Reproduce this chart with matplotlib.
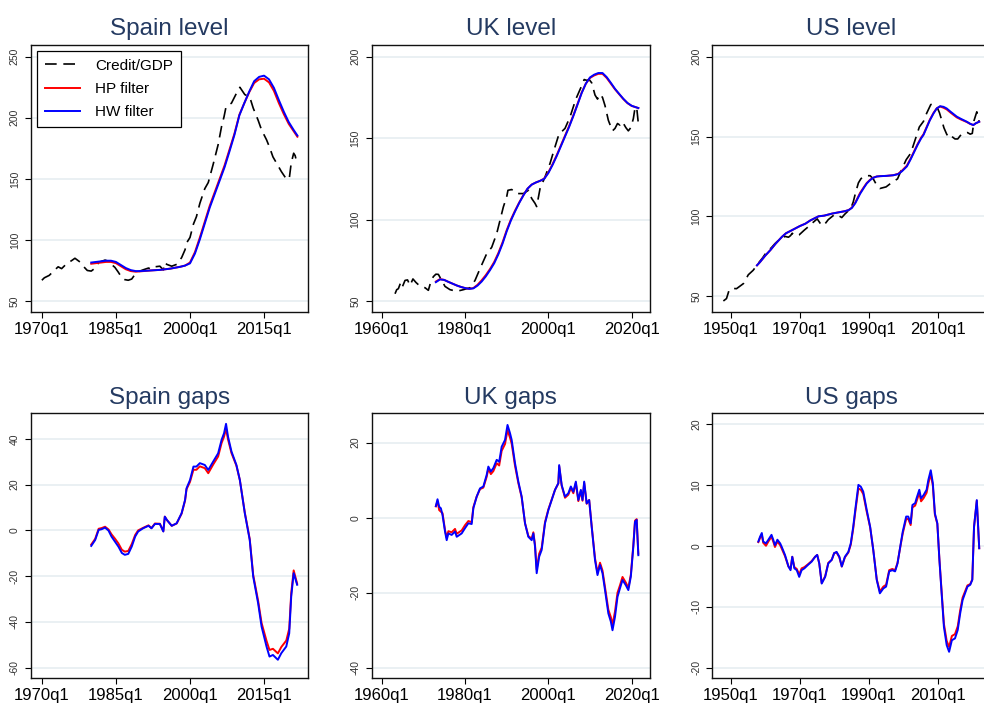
import numpy as np
import matplotlib
matplotlib.use("Agg")
import matplotlib.pyplot as plt

plt.rcParams['font.family'] = ['Liberation Sans', 'DejaVu Sans']

# ---------------- Spain ----------------
es_credit_x = [1970.0, 1970.5, 1971.5, 1972.5, 1973.3, 1974.0, 1975.0, 1976.0, 1976.7, 1977.7,
               1978.5, 1979.2, 1980.0, 1980.8, 1981.5, 1982.1, 1982.8, 1983.5, 1984.1, 1984.8,
               1985.5, 1986.2, 1986.8, 1987.5, 1988.2, 1988.9, 1989.5, 1990.5, 1991.6, 1992.2,
               1992.9, 1993.9, 1994.6, 1994.9, 1995.3, 1996.3, 1997.3, 1998.3, 1999.0, 1999.3,
               2000.0, 2000.7, 2001.3, 2002.0, 2003.0, 2003.7, 2004.7, 2005.7, 2006.4, 2006.9,
               2007.3, 2007.7, 2008.4, 2009.4, 2010.1, 2011.1, 2012.1, 2012.8, 2013.8, 2014.5,
               2015.5, 2016.1, 2016.8, 2017.8, 2018.5, 2019.5, 2020.1, 2020.5, 2021.0, 2021.3,
               2021.75]
es_credit = [67, 69, 71, 75, 78, 76.5, 80.5, 83, 85, 82,
             78, 75, 74.5, 77, 81.5, 82.5, 83.5, 82.5, 80, 77.5,
             73.5, 69, 67.5, 67, 68, 72, 74, 75.5, 77, 76,
             78, 78.5, 75.5, 81.5, 80, 78.5, 80, 85.5, 92, 97.5,
             102, 113, 119, 130, 142, 147, 162, 178, 193, 201,
             209, 210, 212, 220, 225, 219, 217, 208, 198, 190,
             182, 176, 168, 161, 156, 150, 150, 163, 171, 169,
             161.5]

es_trend_x = [1980, 1981, 1982, 1983, 1984, 1985, 1986, 1987, 1988, 1989, 1990, 1992, 1994,
              1996, 1998, 1999, 2000, 2001, 2002, 2003, 2004, 2005, 2006, 2007, 2008, 2009,
              2010, 2011, 2012, 2013, 2014, 2015, 2016, 2017, 2018, 2019, 2020, 2021, 2021.75]
es_trend_hp = [80.5, 81, 81.5, 82, 82, 81, 78.5, 76, 74.5, 74, 74.3, 75, 75.5,
               76.5, 78, 79, 81.5, 90, 102, 115, 128, 139, 150, 161, 174, 187,
               202.5, 212, 221, 228.5, 231.5, 232, 229, 222, 212, 203, 195, 189, 184.5]
es_trend_hw = [81.5, 82, 82.5, 83, 83, 82, 79.5, 77, 75.3, 74.5, 74.5, 75, 75.5,
               76.5, 78, 79, 80.8, 88.8, 100.5, 113.5, 126.5, 137.5, 148.5, 159.5, 172.5, 186,
               202, 212, 221.5, 230, 233.5, 234.5, 231.5, 224.5, 214.5, 205, 196.5, 190, 185.5]

es_gap_x = [1980.0, 1980.8, 1981.5, 1982.1, 1982.8, 1983.5, 1984.1, 1984.8, 1985.5, 1986.2,
            1986.8, 1987.5, 1988.2, 1988.9, 1989.5, 1990.5, 1991.6, 1992.2, 1992.9, 1993.9,
            1994.6, 1994.9, 1995.3, 1996.3, 1997.3, 1998.3, 1999.0, 1999.3, 2000.0, 2000.7,
            2001.3, 2002.0, 2003.0, 2003.7, 2004.7, 2005.7, 2006.4, 2006.9, 2007.3, 2007.7,
            2008.4, 2009.4, 2010.1, 2011.1, 2012.1, 2012.8, 2013.8, 2014.5, 2015.5, 2016.1,
            2016.8, 2017.8, 2018.5, 2019.5, 2020.1, 2020.5, 2021.0, 2021.7]
es_gap_hw = [-6.8, -4.2, 0.2, 0.5, 1.2, -0.1, -2.7, -4.9, -7.1, -9.9,
             -10.7, -10.3, -7.1, -2.7, -0.5, 0.9, 2.0, 0.9, 2.8, 2.8,
             -0.5, 6.0, 4.6, 2.0, 3.1, 7.5, 13.3, 18.4, 22.0, 27.9,
             27.9, 29.4, 28.6, 26.4, 30.1, 33.7, 39.6, 42.5, 46.6, 41.0,
             34.5, 28.6, 22.0, 7.5, -4.2, -20.2, -31.9, -42.1, -50.8, -55.2,
             -54.5, -56.6, -53.7, -50.8, -45.0, -29.0, -18.7, -23.8]
es_gap_hp = [-6.2, -3.7, 0.7, 1.0, 1.6, 0.4, -1.7, -3.6, -5.7, -8.5,
             -9.3, -9.0, -6.0, -2.0, 0.0, 1.1, 2.2, 1.0, 3.0, 2.9,
             -0.4, 6.0, 4.6, 2.0, 3.0, 7.3, 13.0, 18.0, 21.2, 26.5,
             26.5, 28.0, 27.2, 25.0, 28.8, 32.3, 38.2, 41.0, 44.5, 39.8,
             33.8, 28.3, 22.0, 7.8, -3.8, -19.5, -30.8, -40.5, -48.3, -52.3,
             -51.8, -53.8, -51.0, -48.2, -43.0, -27.5, -17.5, -23.3]

# ---------------- UK ----------------
uk_credit_x = [1963.2, 1963.6, 1964.0, 1964.6, 1965.0, 1965.6, 1966.2, 1966.8, 1967.5, 1968.2,
               1969.0, 1969.8, 1970.4, 1971.2, 1971.8, 1972.4, 1973.0, 1973.6, 1974.4, 1975.2,
               1976.4, 1978.0, 1979.6, 1981.2, 1982.4, 1983.6, 1985.2, 1986.4, 1987.6, 1989.2,
               1990.0, 1990.3, 1991.2, 1992.4, 1994.0, 1995.2, 1996.0, 1996.8, 1997.2, 1998.0,
               1999.2, 2000.4, 2001.6, 2002.6, 2003.2, 2004.0, 2005.2, 2006.6, 2007.8, 2008.6,
               2009.2, 2009.8, 2010.4, 2011.2, 2011.8, 2012.4, 2013.0, 2013.6, 2014.4, 2015.0,
               2015.4, 2016.0, 2016.6, 2017.2, 2017.8, 2018.6, 2019.2, 2019.8, 2020.4, 2020.8,
               2021.2, 2021.6]
uk_credit = [54.5, 57, 57.6, 61.7, 59, 62.7, 63, 59.6, 63.6, 61.5,
             59.6, 58.5, 58.2, 56.6, 62, 65, 66.5, 66.4, 62.7, 59,
             57, 56, 57, 58.2, 62.7, 69.9, 79.1, 83, 91.4, 107.8,
             114, 118, 118.5, 116, 116, 118, 113, 110, 108, 119,
             126.2, 134.5, 144.7, 152.9, 154, 156, 163, 174, 181, 186,
             185.5, 186, 184, 176.5, 174, 177, 175, 170, 161, 157,
             154.5, 156, 159, 158, 160, 156.5, 154.5, 156.5, 162, 168.5,
             169, 159]

uk_trend_x = [1973, 1974, 1975, 1976, 1977, 1978, 1979, 1980, 1981, 1982, 1983, 1984, 1985,
              1986, 1987, 1988, 1989, 1990, 1991, 1992, 1993, 1994, 1995, 1996, 1997, 1998,
              1999, 2000, 2001, 2002, 2003, 2004, 2005, 2006, 2007, 2008, 2009, 2010, 2011,
              2012, 2013, 2014, 2015, 2016, 2017, 2018, 2019, 2020, 2021, 2021.6]
uk_trend_hp = [62, 63.5, 63, 61.8, 60.7, 59.6, 58.7, 58, 57.5, 58, 60, 62.8, 66,
               69.7, 74, 79.5, 86, 93.5, 100, 105.5, 110.5, 115, 119, 121.5, 122.8, 123.8,
               125.2, 129, 134, 139.5, 145.5, 151.5, 157.5, 164, 171, 178, 183.5, 187, 188.5,
               189.5, 189.5, 187, 183.5, 180, 177, 174, 171.5, 169.8, 169, 168.5]
uk_trend_hw = [61.6, 63.3, 63, 61.8, 60.7, 59.6, 58.7, 58, 57.5, 57.8, 59.5, 62, 65.2,
               69, 73.2, 78.7, 85.2, 92.8, 99.4, 105, 110.2, 114.8, 119, 121.5, 122.8, 123.8,
               125, 128.6, 133.5, 139, 145, 151, 157, 163.6, 170.6, 177.7, 183.5, 187.3, 189,
               190, 190, 187.5, 184, 180.3, 177.2, 174.2, 171.6, 169.9, 169, 168.5]

uk_gap_x = [1973.0, 1973.4, 1973.8, 1974.2, 1974.6, 1975.2, 1975.6, 1976.0, 1976.8, 1977.6,
            1978.0, 1979.2, 1980.0, 1980.8, 1981.6, 1982.0, 1982.8, 1983.6, 1984.4, 1985.2,
            1985.6, 1986.2, 1986.8, 1987.6, 1988.2, 1988.8, 1989.6, 1990.2, 1990.8, 1991.2,
            1992.0, 1992.8, 1993.6, 1994.4, 1995.2, 1996.0, 1996.4, 1996.8, 1997.2, 1997.8,
            1998.4, 1999.2, 2000.0, 2000.8, 2001.6, 2002.4, 2002.6, 2003.2, 2004.0, 2004.8,
            2005.4, 2006.0, 2006.6, 2007.2, 2007.8, 2008.2, 2008.6, 2009.2, 2009.8, 2010.4,
            2011.2, 2011.8, 2012.4, 2013.0, 2013.6, 2014.4, 2015.0, 2015.4, 2016.0, 2016.6,
            2017.2, 2017.8, 2018.6, 2019.2, 2019.8, 2020.4, 2020.8, 2021.2, 2021.6]
uk_gap_hw = [3.1, 4.9, 2.9, 2.5, 0.7, -3.7, -6.0, -4.2, -4.6, -3.7,
             -5.1, -4.2, -2.8, -1.5, -1.7, 2.5, 5.6, 7.8, 8.3, 11.4,
             13.6, 12.3, 13.2, 15.4, 14.9, 18.9, 20.7, 24.7, 22.5, 20.7,
             14.5, 9.6, 5.6, -1.5, -5.1, -6.0, -4.2, -7.7, -14.8, -10.4,
             -8.6, -1.5, 2.0, 4.7, 7.4, 9.2, 14.0, 8.7, 5.6, 6.5,
             8.3, 6.9, 9.6, 4.7, 7.4, 4.7, 9.6, 3.8, 4.7, -2.4,
             -11.3, -15.3, -12.6, -14.8, -19.3, -25.5, -27.7, -30.0, -26.4, -21.1,
             -18.8, -16.6, -18.0, -19.3, -15.7, -7.7, -1.1, -0.6, -10.0]
uk_gap_hp = [3.0, 4.4, 2.0, 1.6, 1.2, -3.3, -5.4, -3.6, -3.9, -3.0,
             -4.3, -3.4, -2.0, -0.9, -1.2, 2.8, 5.6, 7.6, 8.0, 10.9,
             13.0, 11.6, 12.4, 14.5, 13.9, 17.8, 19.6, 23.3, 21.3, 19.7,
             13.8, 9.2, 5.4, -1.5, -4.9, -5.6, -3.9, -7.2, -13.8, -9.6,
             -8.0, -1.2, 2.2, 4.8, 7.4, 9.1, 13.7, 8.5, 5.3, 6.1,
             7.9, 6.5, 9.2, 4.4, 7.1, 4.5, 9.3, 3.7, 4.7, -2.2,
             -10.8, -14.7, -12.0, -14.1, -18.5, -24.5, -26.5, -28.5, -25.0, -20.0,
             -18.0, -15.8, -17.3, -18.7, -15.2, -7.3, -0.8, -0.4, -9.6]

# ---------------- US ----------------
us_credit_x = [1947.9, 1948.8, 1949.5, 1950.2, 1951.7, 1953.7, 1955.1, 1956.5, 1958.1, 1959.2,
               1960.4, 1961.8, 1962.8, 1964.3, 1965.7, 1966.7, 1967.3, 1967.8, 1968.4, 1969.8,
               1971.3, 1972.4, 1973.4, 1975.0, 1976.3, 1977.3, 1978.2, 1979.9, 1980.6, 1982.1,
               1983.0, 1984.7, 1985.4, 1986.1, 1986.9, 1987.6, 1988.3, 1989.3, 1990.3, 1991.2,
               1992.2, 1993.1, 1994.9, 1996.7, 1998.2, 1999.0, 2000.7, 2002.0, 2003.3, 2004.5,
               2005.7, 2006.6, 2007.8, 2008.4, 2009.0, 2009.7, 2010.3, 2011.0, 2011.6, 2012.4,
               2013.1, 2013.9, 2014.8, 2015.6, 2016.3, 2017.0, 2018.4, 2019.2, 2019.8, 2020.3,
               2021.1, 2021.8]
us_credit = [47.1, 48.6, 53.5, 55, 54.8, 58, 63.5, 66.3, 71, 74,
             77.8, 80.5, 83, 86, 87.5, 87, 88, 89.5, 88, 88.5,
             91.5, 93.5, 95.5, 98.5, 94.3, 95.5, 98, 101, 101.3, 99.3,
             101.5, 105, 109, 115, 121, 123.5, 125, 125.5, 125.5, 123.5,
             119.5, 117.5, 118.5, 121.5, 123.5, 127.5, 135.5, 139.5, 148, 156,
             159.5, 164.5, 170, 170.5, 169.5, 168, 165, 160, 155.5, 151.5,
             149, 150, 148.5, 148.5, 150.5, 152, 152.5, 151.5, 152, 160,
             165.5, 159]

us_trend_x = [1957.6, 1958.5, 1960, 1961.5, 1963, 1964.8, 1966, 1967.7, 1970, 1971.6, 1973,
              1975.4, 1977, 1979.3, 1981, 1983, 1984.1, 1985, 1986, 1987.4, 1988.5, 1989.3,
              1990.3, 1991.2, 1992.2, 1993.1, 1995, 1997, 1998.4, 1999.5, 2000.9, 2002, 2003,
              2004, 2005, 2005.7, 2006.5, 2007.5, 2008.6, 2009.5, 2010.5, 2011.5, 2012.4,
              2013.5, 2015.3, 2016.5, 2018.2, 2019.2, 2020.1, 2020.8, 2021.8]
us_trend_hp = [69.4, 71.5, 75.5, 79, 83, 87.2, 89.5, 91.4, 94, 95.5, 97.5,
               100.1, 100.5, 101.8, 102.5, 103.3, 104, 105.5, 108.7, 114.8, 118.4, 120.9,
               123, 124.3, 125, 125.2, 125.4, 125.8, 126.7, 128.7, 131.8, 136.3, 140.8,
               145.3, 149.3, 151.4, 155.4, 160.4, 164.8, 167.6, 168.8, 168, 167,
               165, 162, 160.7, 159.1, 157.9, 157.2, 158.3, 159.3]
us_trend_hw = [69.4, 71.5, 75.5, 79, 83, 87.2, 89.5, 91.4, 94, 95.5, 97.5,
               100.1, 100.5, 101.8, 102.5, 103.3, 104, 105.3, 108.3, 114.2, 118, 120.6,
               122.8, 124.2, 125, 125.2, 125.4, 125.8, 126.5, 128.3, 131.3, 135.8, 140.3,
               144.8, 148.8, 151, 155, 160, 164.5, 167.5, 169, 168.6, 167.6,
               165.6, 162.5, 161.1, 159.3, 158, 157.2, 158.3, 159.3]

us_gap_x = [1958.0, 1958.5, 1959.0, 1959.4, 1960.2, 1960.9, 1961.8, 1962.3, 1962.8, 1963.5,
            1964.3, 1964.7, 1965.7, 1966.7, 1967.3, 1967.8, 1968.4, 1969.1, 1969.8, 1970.5,
            1971.3, 1972.4, 1973.4, 1974.4, 1975.0, 1975.6, 1976.3, 1977.3, 1978.2, 1979.2,
            1979.9, 1980.6, 1981.4, 1982.1, 1983.0, 1984.0, 1984.7, 1985.4, 1986.1, 1986.9,
            1987.6, 1988.3, 1989.3, 1990.3, 1991.2, 1992.2, 1993.1, 1994.1, 1994.9, 1995.8,
            1996.7, 1997.5, 1998.2, 1999.0, 1999.7, 2000.7, 2001.3, 2002.0, 2002.5, 2003.3,
            2003.7, 2004.5, 2005.0, 2005.7, 2006.6, 2007.1, 2007.8, 2008.4, 2009.0, 2009.7,
            2010.3, 2011.0, 2011.6, 2012.4, 2013.1, 2013.9, 2014.8, 2015.6, 2016.3, 2017.0,
            2017.7, 2018.4, 2019.2, 2019.8, 2020.3, 2021.1, 2021.8]
us_gap_hw = [0.7, 1.5, 2.1, 0.7, 0.4, 1.0, 1.8, 1.0, 0.1, 1.0,
             0.4, -0.1, -1.5, -3.4, -4.0, -1.8, -3.7, -4.0, -5.1, -4.0,
             -3.7, -3.1, -2.6, -1.8, -1.5, -2.9, -6.2, -5.1, -2.9, -2.3,
             -1.2, -1.0, -1.8, -3.4, -1.8, -1.0, 0.4, 3.1, 6.4, 10.0,
             9.7, 8.9, 5.9, 3.1, -0.7, -5.6, -7.8, -7.0, -6.7, -4.2,
             -4.0, -4.2, -2.9, -0.1, 2.3, 4.8, 4.8, 3.7, 6.7, 7.0,
             7.8, 9.2, 7.8, 8.3, 9.2, 10.8, 12.4, 10.3, 5.3, 3.7,
             -2.3, -8.3, -13.3, -16.3, -17.4, -15.5, -15.2, -13.8, -11.1, -8.9,
             -7.8, -6.7, -6.4, -5.6, 3.1, 7.5, -0.4]
us_gap_hp = [0.6, 1.3, 1.8, 0.5, 0.0, 0.7, 1.5, 0.7, -0.2, 0.7,
             0.1, -0.4, -1.7, -3.4, -3.8, -1.8, -3.5, -3.8, -4.7, -3.7,
             -3.5, -3.0, -2.5, -1.8, -1.5, -2.9, -6.1, -5.0, -2.8, -2.3,
             -1.2, -1.1, -1.9, -3.4, -1.9, -1.1, 0.2, 2.8, 6.0, 9.4,
             9.2, 8.5, 5.6, 3.0, -0.7, -5.5, -7.5, -6.7, -6.4, -4.0,
             -3.8, -4.0, -2.8, -0.2, 2.0, 4.4, 4.4, 3.4, 6.3, 6.6,
             7.3, 8.7, 7.3, 7.8, 8.7, 10.2, 11.8, 9.9, 5.1, 3.6,
             -2.2, -8.0, -12.8, -15.6, -16.6, -14.8, -14.5, -13.2, -10.6, -8.5,
             -7.5, -6.5, -6.3, -5.5, 3.1, 7.4, -0.4]

# ticks per country
es_xticks = [1970, 1985, 2000, 2015]
uk_xticks = [1960, 1980, 2000, 2020]
us_xticks = [1950, 1970, 1990, 2010]

title_col = '#243a61'
grid_col = '#e6eef1'

fig = plt.figure(figsize=(9.84, 7.07), dpi=100)
W, H = 984, 707
lefts = [31, 371.7, 712.3]
widths = [277, 278.3, 278]


def make_ax(col, row):
    if row == 0:
        top, bot = 45, 312
    else:
        top, bot = 413.3, 678.3
    return fig.add_axes([lefts[col] / W, 1 - bot / H, widths[col] / W, (bot - top) / H])


def style(ax, title, xticks, xlim, yticks, ylim):
    ax.set_title(title, fontsize=17.5, color=title_col, pad=7)
    ax.set_xlim(xlim)
    ax.set_ylim(ylim)
    ax.set_xticks(xticks)
    ax.set_xticklabels([f"{t}q1" for t in xticks], fontsize=12)
    ax.set_yticks(yticks)
    ax.set_yticklabels([str(t) for t in yticks], fontsize=7.5, rotation=90, va='center',
                       color='#333333')
    ax.tick_params(axis='x', length=4, width=0.8, pad=3)
    ax.tick_params(axis='y', length=4, width=0.8, pad=4)
    for t in yticks:
        ax.axhline(t, color=grid_col, lw=1.2, zorder=0)
    for s in ax.spines.values():
        s.set_linewidth(1.0)
        s.set_color('#111111')


def level_panel(ax, cx, cy, tx, hp, hw):
    ax.plot(cx, cy, color='black', lw=1.2, dashes=(7, 4), label='Credit/GDP', zorder=2)
    ax.plot(tx, hp, color='red', lw=1.4, label='HP filter', zorder=3)
    ax.plot(tx, hw, color='blue', lw=1.4, label='HW filter', zorder=4)


def gap_panel(ax, gx, hp, hw):
    ax.plot(gx, hp, color='red', lw=1.4, zorder=3)
    ax.plot(gx, hw, color='blue', lw=1.4, zorder=4)


ax = make_ax(0, 0)
level_panel(ax, es_credit_x, es_credit, es_trend_x, es_trend_hp, es_trend_hw)
style(ax, 'Spain level', es_xticks, (1967.8, 2023.9), [50, 100, 150, 200, 250], (41, 259.6))
leg = ax.legend(loc='upper left', fontsize=11, handlelength=2.3, handletextpad=1.0,
                labelspacing=0.6, borderpad=0.5, borderaxespad=0.4, fancybox=False,
                framealpha=1, edgecolor='black')
leg.get_frame().set_linewidth(0.9)

ax = make_ax(1, 0)
level_panel(ax, uk_credit_x, uk_credit, uk_trend_x, uk_trend_hp, uk_trend_hw)
style(ax, 'UK level', uk_xticks, (1957.6, 2024.4), [50, 100, 150, 200], (43.3, 207.2))

ax = make_ax(2, 0)
level_panel(ax, us_credit_x, us_credit, us_trend_x, us_trend_hp, us_trend_hw)
style(ax, 'US level', us_xticks, (1944.7, 2025.0), [50, 100, 150, 200], (40.2, 207.3))

ax = make_ax(0, 1)
gap_panel(ax, es_gap_x, es_gap_hp, es_gap_hw)
style(ax, 'Spain gaps', es_xticks, (1967.8, 2023.9), [-60, -40, -20, 0, 20, 40], (-64.7, 51.2))

ax = make_ax(1, 1)
gap_panel(ax, uk_gap_x, uk_gap_hp, uk_gap_hw)
style(ax, 'UK gaps', uk_xticks, (1957.6, 2024.4), [-40, -20, 0, 20], (-42.8, 27.8))

ax = make_ax(2, 1)
gap_panel(ax, us_gap_x, us_gap_hp, us_gap_hw)
style(ax, 'US gaps', us_xticks, (1944.7, 2025.0), [-20, -10, 0, 10, 20], (-21.75, 21.75))

fig.savefig('out.png', dpi=100)
